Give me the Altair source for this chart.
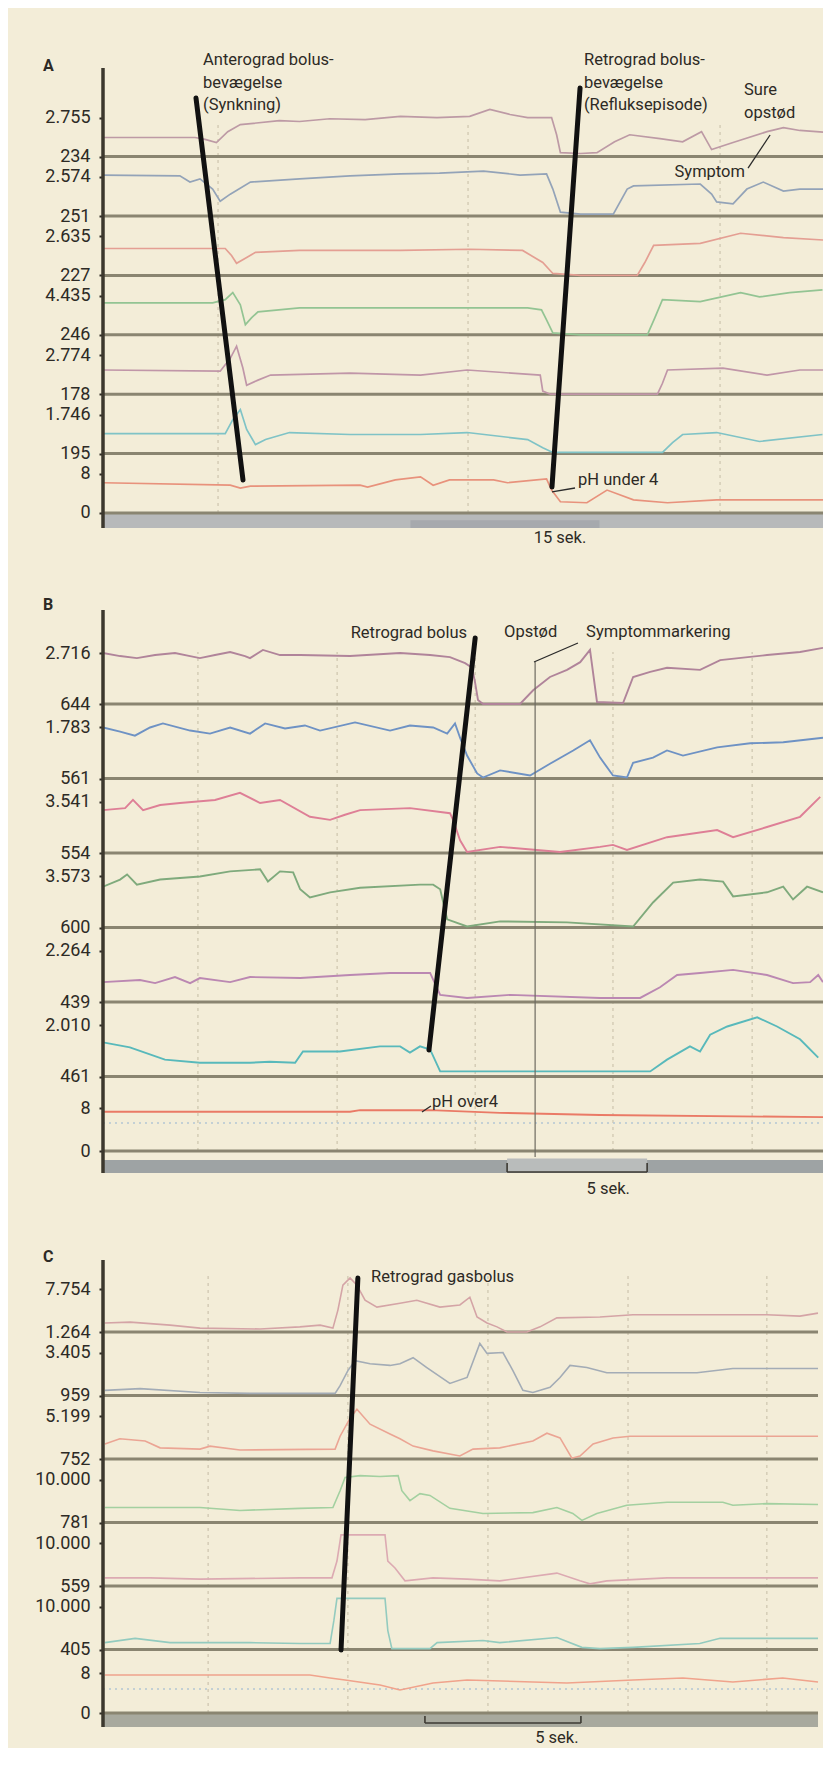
import altair as alt
import pandas as pd

FONT = "Roboto"
BG = "#f3edd8"
INK = "#2d2a25"
BASE = "#8a8571"
PLOT_W = 720

# ======================= Panel A (15 sek.) =======================
A_TOP_LABELS = ["2.755", "2.574", "2.635", "4.435", "2.774", "1.746", "8"]
A_BOTTOM_LABELS = ["234", "251", "227", "246", "178", "195", "0"]
A_COLORS = ["#bd9aa5", "#93a3b8", "#e49f93", "#93c493", "#c096a8", "#7fc3c6", "#e8927c"]

A1_T = [0, 7.3, 8.1, 9.0, 9.9, 10.9, 14.0, 15.6, 18.0, 20.8, 23.6, 26.5, 29.1, 30.7, 32.3, 33.7, 35.6, 36.0, 36.3, 37.9, 39.2, 40.6, 41.8, 44.2, 46.0, 47.5, 48.3, 50.0, 52.7, 54.0, 55.3, 57.5]
A1_V = [49, 49, 44, 36, 64, 82, 92, 90, 97, 95, 103, 100, 103, 121, 108, 100, 100, 56, 10, 8, 10, 38, 56, 46, 38, 64, 18, 36, 64, 74, 67, 62]
A2_T = [0, 6.1, 6.9, 7.7, 8.7, 9.3, 10.1, 11.7, 15.6, 19.6, 23.6, 26.7, 30.2, 33.1, 35.2, 35.7, 36.3, 37.9, 40.5, 41.6, 42.1, 47.4, 48.3, 48.7, 50.0, 51.1, 52.4, 54.0, 55.3, 57.5]
A2_V = [105, 103, 87, 95, 69, 38, 56, 87, 95, 103, 108, 110, 115, 105, 108, 69, 10, 5, 5, 69, 77, 82, 56, 36, 31, 69, 87, 64, 69, 69]
A3_T = [0, 9.7, 10.2, 10.6, 11.3, 12.1, 15.6, 23.6, 29.1, 33.3, 34.9, 35.7, 37.9, 42.4, 43.0, 43.7, 47.4, 50.6, 54.0, 57.5]
A3_V = [69, 69, 51, 31, 44, 59, 64, 64, 67, 64, 33, 5, 0, 0, 33, 77, 82, 108, 97, 90]
A4_T = [0, 8.7, 9.7, 10.3, 10.9, 11.3, 11.8, 12.3, 15.6, 23.6, 33.7, 34.8, 35.2, 35.7, 37.9, 43.2, 43.8, 44.4, 47.4, 50.6, 52.1, 54.5, 57.1]
A4_V = [82, 82, 90, 108, 77, 26, 44, 59, 69, 69, 69, 64, 38, 5, 0, 0, 44, 90, 85, 108, 97, 108, 115]
A5_T = [0, 9.3, 10.1, 10.6, 11.1, 11.4, 12.3, 13.3, 19.6, 25.2, 28.9, 34.7, 34.9, 35.5, 44.0, 44.4, 44.8, 49.2, 52.7, 55.3, 57.5]
A5_V = [62, 59, 92, 123, 67, 23, 36, 49, 54, 49, 62, 49, 8, 0, 0, 28, 62, 67, 49, 62, 62]
A6_T = [0, 9.7, 10.3, 10.9, 11.4, 12.1, 12.9, 14.8, 19.6, 25.2, 28.9, 33.7, 34.9, 35.7, 44.4, 45.2, 46.0, 48.7, 52.1, 57.1]
A6_V = [51, 51, 87, 113, 62, 23, 36, 54, 49, 49, 54, 36, 15, 3, 3, 28, 49, 54, 31, 49]
A_PH_T = [0, 10.1, 10.9, 11.7, 20.4, 21.0, 23.2, 25.2, 26.2, 27.5, 31.0, 32.1, 35.2, 35.6, 36.3, 38.4, 40.0, 42.1, 44.8, 48.7, 57.5]
A_PH_V = [6.2, 5.7, 5.1, 5.5, 5.7, 5.3, 6.8, 7.4, 5.7, 6.8, 6.8, 6.2, 7.0, 4.7, 2.3, 2.1, 4.7, 2.7, 2.1, 2.7, 2.7]

A_SLASHES = [(7.38, 6.987, 11.11, 0.556), (37.86, 7.155, 35.63, 0.438)]
A_LEADERS = [(35.63, 0.354, 37.46, 0.421), (51.19, 5.808, 52.94, 6.364)]
A_TEXT_LEFT = [("Anterograd bolus-", 7.94, 7.626), ("bevægelse", 7.94, 7.239), ("(Synkning)", 7.94, 6.869),
               ("Retrograd bolus-", 38.17, 7.626), ("bevægelse", 38.17, 7.239), ("(Refluksepisode)", 38.17, 6.869),
               ("Sure", 50.87, 7.121), ("opstød", 50.87, 6.734), ("pH under 4", 37.70, 0.556)]
A_TEXT_RIGHT = [("Symptom", 50.95, 5.741)]
A_TEXT_CENTER = [("15 sek.", 36.27, -0.421)]
A_LETTER = ("A", -4.76, 7.525)
A_GRID = [9.13, 28.97, 48.97]

# ======================= Panel B (5 sek.) =======================
B_TOP_LABELS = ["2.716", "1.783", "3.541", "3.573", "2.264", "2.010", "8"]
B_BOTTOM_LABELS = ["644", "561", "554", "600", "439", "461", "0"]
B_COLORS = ["#b0849a", "#6e92c4", "#de7f96", "#7faa7c", "#bb88b2", "#58b9bb", "#ea7a66"]

B1_T = [0, 0.61, 1.21, 1.86, 2.57, 3.11, 3.46, 4.0, 4.54, 5.07, 5.25, 5.71, 6.32, 7.04, 8.82, 10.61, 11.68, 12.39, 12.93, 13.18, 13.29, 13.39, 13.57, 14.89, 15.36, 15.96, 16.57, 17.04, 17.39, 17.64, 18.57, 18.93, 19.54, 20.14, 21.32, 22.04, 23.71, 24.89, 25.71]
B1_V = [100, 94, 90, 96, 100, 94, 90, 96, 102, 94, 90, 106, 96, 96, 94, 100, 96, 92, 80, 71, 41, 8, 0, 0, 27, 53, 67, 82, 106, 4, 2, 53, 63, 71, 67, 86, 96, 102, 110]
B2_T = [0, 0.61, 1.14, 1.68, 2.14, 3.11, 3.82, 4.54, 5.25, 5.79, 6.5, 7.21, 7.75, 9.0, 10.25, 10.96, 11.79, 12.29, 12.57, 12.75, 13.0, 13.36, 13.57, 14.18, 15.25, 15.96, 16.79, 17.39, 17.75, 18.21, 18.71, 18.93, 19.64, 20.14, 20.71, 21.93, 23.11, 24.29, 25.71]
B2_V = [100, 92, 84, 100, 108, 94, 88, 100, 88, 108, 98, 104, 94, 110, 94, 104, 100, 88, 108, 80, 45, 10, 2, 16, 6, 29, 55, 75, 41, 6, 2, 31, 41, 55, 45, 61, 69, 71, 80]
B3_T = [0, 0.79, 1.07, 1.43, 2.04, 2.75, 4.0, 4.89, 5.61, 6.32, 7.39, 8.11, 8.64, 9.18, 10.96, 12.39, 12.5, 12.75, 13.0, 14.18, 16.32, 17.75, 18.21, 18.71, 20.14, 21.93, 22.5, 23.71, 24.89, 25.61]
B3_V = [84, 88, 104, 84, 94, 98, 104, 118, 98, 104, 71, 65, 75, 84, 88, 78, 65, 25, 2, 12, 2, 12, 16, 6, 31, 45, 31, 51, 71, 110]
B4_T = [0, 0.61, 0.86, 1.21, 2.04, 3.46, 4.54, 5.61, 5.89, 6.32, 6.79, 7.04, 7.39, 8.11, 9.18, 11.32, 11.79, 12.04, 12.29, 13.0, 14.18, 16.57, 18.93, 19.64, 20.36, 21.32, 22.14, 22.5, 23.71, 24.29, 24.64, 25.14, 25.71]
B4_V = [80, 94, 104, 84, 94, 100, 110, 114, 90, 110, 108, 75, 59, 69, 78, 84, 84, 75, 16, 2, 12, 10, 2, 49, 88, 94, 90, 61, 69, 80, 55, 80, 69]
B5_T = [0, 1.32, 1.86, 2.57, 3.11, 3.46, 4.54, 5.25, 7.04, 8.82, 10.25, 11.68, 12.04, 13.0, 14.54, 17.75, 19.18, 19.89, 20.5, 21.32, 22.5, 23.71, 24.64, 25.25, 25.54, 25.71]
B5_V = [39, 43, 37, 49, 37, 47, 39, 49, 47, 53, 57, 57, 14, 8, 14, 8, 8, 29, 53, 57, 63, 53, 37, 39, 53, 39]
B6_T = [0, 0.96, 2.21, 3.46, 5.25, 5.96, 6.86, 7.14, 8.46, 9.89, 10.61, 10.96, 11.32, 11.68, 12.04, 14.18, 19.54, 20.14, 20.96, 21.32, 21.68, 22.29, 23.36, 24.07, 24.89, 25.54]
B6_V = [67, 57, 33, 27, 27, 29, 27, 49, 49, 59, 59, 47, 59, 53, 10, 10, 10, 33, 59, 49, 82, 98, 116, 98, 73, 37]
B_PH_T = [0, 8.82, 9.18, 11.68, 14.18, 17.75, 25.71]
B_PH_V = [7.3, 7.3, 7.6, 7.6, 7.1, 6.7, 6.3]
B_PH_REF = 5.2

B_SLASHES = [(13.29, 6.886, 11.64, 1.356)]
B_LEADERS = [(15.39, 6.564, 16.96, 6.819), (11.39, 0.523, 11.71, 0.604)]
B_MARKER = [(15.43, 6.564, 15.43, -0.08)]
B_TEXT_LEFT = [("Opstød", 14.32, 6.966), ("Symptommarkering", 17.25, 6.966), ("pH over4", 11.75, 0.658)]
B_TEXT_RIGHT = [("Retrograd bolus", 13.0, 6.953)]
B_TEXT_CENTER = [("5 sek.", 18.04, -0.510)]
B_LETTER = ("B", -2.14, 7.329)
B_GRID = [3.39, 8.36, 13.29, 18.21, 23.18]

# ======================= Panel C (5 sek.) =======================
C_TOP_LABELS = ["7.754", "3.405", "5.199", "10.000", "10.000", "10.000", "8"]
C_BOTTOM_LABELS = ["1.264", "959", "752", "781", "559", "405", "0"]
C_COLORS = ["#d4a4a6", "#a3acb6", "#eba594", "#a3d0a0", "#dcaab2", "#93cbbf", "#f0a38c"]

C1_T = [0.06, 0.87, 2.15, 3.11, 5.03, 6.31, 6.96, 7.37, 7.53, 7.69, 7.92, 8.14, 8.40, 8.78, 9.52, 10.06, 10.80, 11.44, 11.76, 11.99, 12.31, 12.63, 12.95, 13.59, 14.01, 14.55, 15.93, 16.99, 21.28, 22.34, 22.92]
C1_V = [21, 23, 16, 9, 7, 12, 16, 9, 51, 109, 126, 109, 74, 58, 67, 74, 58, 63, 81, 35, 21, 12, 0, 0, 12, 33, 35, 40, 40, 37, 44]
C2_T = [0.06, 1.19, 3.11, 4.71, 7.44, 7.60, 7.85, 8.08, 8.56, 9.20, 9.52, 9.94, 10.38, 11.12, 11.67, 12.08, 12.31, 12.82, 13.14, 13.46, 13.78, 14.33, 14.65, 14.97, 15.51, 16.15, 19.04, 20.19, 22.92]
C2_V = [12, 16, 7, 5, 5, 23, 58, 81, 74, 70, 74, 88, 65, 28, 42, 121, 98, 100, 58, 12, 7, 19, 42, 70, 65, 53, 53, 63, 63]
C3_T = [0.06, 0.54, 1.35, 1.83, 3.11, 3.43, 4.39, 7.44, 7.60, 7.92, 8.14, 8.56, 9.20, 9.52, 9.94, 10.58, 11.44, 11.86, 12.72, 13.78, 14.23, 14.65, 15.03, 15.29, 15.71, 16.35, 16.89, 22.92]
C3_V = [35, 47, 42, 26, 23, 30, 21, 23, 53, 95, 116, 81, 58, 47, 30, 19, 7, 23, 26, 42, 60, 49, 2, 7, 35, 49, 53, 53]
C4_T = [0.06, 3.11, 4.39, 6.31, 7.37, 7.60, 7.76, 8.24, 8.88, 9.46, 9.58, 9.84, 10.16, 10.48, 11.12, 12.18, 13.78, 14.55, 15.06, 15.35, 15.83, 16.79, 18.08, 19.87, 20.19, 21.28, 22.92]
C4_V = [35, 35, 28, 33, 35, 74, 105, 109, 107, 109, 74, 51, 67, 63, 33, 21, 23, 35, 21, 5, 21, 40, 47, 47, 40, 44, 42]
C5_T = [0.06, 1.51, 3.11, 6.31, 7.34, 7.50, 7.63, 9.04, 9.13, 9.36, 9.68, 10.58, 11.67, 12.72, 14.55, 15.29, 15.61, 16.15, 18.08, 22.92]
C5_V = [19, 19, 16, 19, 19, 58, 119, 119, 58, 42, 12, 19, 16, 12, 30, 12, 5, 12, 19, 19]
C6_T = [0.06, 1.03, 2.15, 4.71, 6.31, 7.28, 7.40, 7.50, 9.04, 9.13, 9.26, 10.48, 10.71, 12.18, 12.72, 14.55, 15.35, 15.93, 16.99, 19.13, 19.78, 22.92]
C6_V = [16, 26, 16, 16, 14, 14, 67, 119, 119, 44, 2, 2, 16, 21, 16, 28, 5, 2, 5, 14, 26, 26]
C_PH_T = [0.06, 6.63, 7.28, 7.76, 8.88, 9.52, 10.58, 11.67, 13.78, 14.87, 16.99, 18.59, 20.19, 21.79, 22.92]
C_PH_V = [7.6, 7.6, 7.0, 6.6, 5.6, 4.6, 6.0, 6.6, 6.2, 6.0, 6.6, 7.0, 6.2, 7.0, 6.2]
C_PH_REF = 4.8

C_SLASHES = [(8.17, 6.850, 7.63, 0.992)]
C_TEXT_LEFT = [("Retrograd gasbolus", 8.59, 6.866)]
C_TEXT_CENTER = [("5 sek.", 14.55, -0.394)]
C_LETTER = ("C", -1.92, 7.181)
C_GRID = [3.37, 7.85, 12.34, 16.83, 21.28]


def build_panel(cfg):
    n = len(cfg["traces"])
    span_imp, span_ph = cfg["spans"]
    xscale = alt.Scale(domain=list(cfg["xdom"]), nice=False, zero=False)
    yscale = alt.Scale(domain=list(cfg["ydom"]), nice=False, zero=False)

    # axis tick positions & label texts
    vals, labs = [], []
    for ch in range(n):
        idx = n - 1 - ch
        span = span_ph if ch == n - 1 else span_imp
        vals.append(round(idx + span, 4)); labs.append(cfg["top"][ch])
        vals.append(idx); labs.append(cfg["bottom"][ch])
    expr = ("[" + ",".join("'%s'" % s for s in labs) + "][indexof(["
            + ",".join(repr(v) for v in vals) + "], datum.value)]")
    yaxis = alt.Axis(values=vals, labelExpr=expr, domain=False, grid=False, ticks=True,
                     tickSize=4, tickWidth=2, tickColor=INK, labelFont=FONT, labelFontSize=18,
                     labelColor=INK, labelPadding=9, title=None, minExtent=95, maxExtent=95,
                     labelOverlap=False, labelBound=False, labelFlush=False)

    def X(f):
        return alt.X(f, type="quantitative", scale=xscale, axis=None)

    def Y(f):
        return alt.Y(f, type="quantitative", scale=yscale, axis=yaxis)

    t_end = cfg["t_end"]
    layers = []

    # faint dashed vertical grid
    grid = pd.DataFrame({"t": cfg["grid"], "y0": 0.0, "y1": cfg["grid_top"]})
    layers.append(alt.Chart(grid).mark_rule(color="#cdc5ae", strokeDash=[3, 4], strokeWidth=1.2)
                  .encode(x=X("t"), y=Y("y0"), y2=alt.Y2("y1")))

    # gray time bar
    bar = pd.DataFrame([{"t0": 0, "t1": t_end, "y0": cfg["bar"][0], "y1": cfg["bar"][1]}])
    layers.append(alt.Chart(bar).mark_rect(color=cfg["bar_color"], clip=True)
                  .encode(x=X("t0"), x2=alt.X2("t1"), y=Y("y0"), y2=alt.Y2("y1")))
    if cfg.get("bar_extra"):
        be = pd.DataFrame([dict(zip(["t0", "t1", "y0", "y1", "c"], r)) for r in cfg["bar_extra"]])
        layers.append(alt.Chart(be).mark_rect(clip=True)
                      .encode(x=X("t0"), x2=alt.X2("t1"), y=Y("y0"), y2=alt.Y2("y1"),
                              color=alt.Color("c:N", scale=None)))

    # channel baselines
    bl = pd.DataFrame({"pos": list(range(n)), "t0": 0, "t1": t_end})
    layers.append(alt.Chart(bl).mark_rule(color=BASE, strokeWidth=3, clip=True)
                  .encode(x=X("t0"), x2=alt.X2("t1"), y=Y("pos")))

    # pH reference (dotted)
    if cfg.get("ph_ref") is not None:
        pr = pd.DataFrame([{"t0": 0, "t1": t_end, "pos": cfg["ph_ref"] / 8.0 * span_ph}])
        layers.append(alt.Chart(pr).mark_rule(color="#b4c6d4", strokeDash=[2, 4], strokeWidth=1.5, clip=True)
                      .encode(x=X("t0"), x2=alt.X2("t1"), y=Y("pos")))

    # traces
    rows = []
    for ch, (ts, vs) in enumerate(cfg["traces"]):
        idx = n - 1 - ch
        is_ph = ch == n - 1
        span = span_ph if is_ph else span_imp
        full = 8.0 if is_ph else 100.0
        for t, v in zip(ts, vs):
            rows.append({"t": t, "pos": idx + v / full * span, "ch": "k%d" % ch, "c": cfg["colors"][ch]})
    tr = pd.DataFrame(rows)
    layers.append(alt.Chart(tr).mark_line(strokeWidth=cfg["lw"], clip=True)
                  .encode(x=X("t"), y=Y("pos"), color=alt.Color("c:N", scale=None), detail="ch:N"))

    # symptom marker line
    if cfg.get("marker"):
        mk = pd.DataFrame([dict(zip(["t0", "p0", "t1", "p1"], r)) for r in cfg["marker"]])
        layers.append(alt.Chart(mk).mark_rule(color="#6d6a60", strokeWidth=1.2)
                      .encode(x=X("t0"), y=Y("p0"), x2=alt.X2("t1"), y2=alt.Y2("p1")))

    # scale bracket
    if cfg.get("bracket"):
        b0, b1, by, btop = cfg["bracket"]
        br = pd.DataFrame([{"t0": b0, "p0": by, "t1": b1, "p1": by},
                           {"t0": b0, "p0": by, "t1": b0, "p1": btop},
                           {"t0": b1, "p0": by, "t1": b1, "p1": btop}])
        layers.append(alt.Chart(br).mark_rule(color="#3d3a33", strokeWidth=1.6)
                      .encode(x=X("t0"), y=Y("p0"), x2=alt.X2("t1"), y2=alt.Y2("p1")))

    # thick black annotation strokes
    sl = pd.DataFrame([dict(zip(["t0", "p0", "t1", "p1"], r)) for r in cfg["slashes"]])
    layers.append(alt.Chart(sl).mark_rule(color="#111111", strokeWidth=5, strokeCap="round")
                  .encode(x=X("t0"), y=Y("p0"), x2=alt.X2("t1"), y2=alt.Y2("p1")))

    # thin leaders
    if cfg.get("leaders"):
        ld = pd.DataFrame([dict(zip(["t0", "p0", "t1", "p1"], r)) for r in cfg["leaders"]])
        layers.append(alt.Chart(ld).mark_rule(color="#2a2a2a", strokeWidth=1.3)
                      .encode(x=X("t0"), y=Y("p0"), x2=alt.X2("t1"), y2=alt.Y2("p1")))

    # texts
    for key, align in (("text_left", "left"), ("text_right", "right"), ("text_center", "center")):
        if cfg.get(key):
            td = pd.DataFrame([{"label": a, "t": b, "pos": c} for a, b, c in cfg[key]])
            layers.append(alt.Chart(td).mark_text(align=align, baseline="middle", font=FONT,
                                                  fontSize=16.5, color=INK)
                          .encode(x=X("t"), y=Y("pos"), text="label:N"))
    lt = pd.DataFrame([{"label": cfg["letter"][0], "t": cfg["letter"][1], "pos": cfg["letter"][2]}])
    layers.append(alt.Chart(lt).mark_text(align="left", baseline="middle", font=FONT, fontSize=16,
                                          fontWeight="bold", color=INK)
                  .encode(x=X("t"), y=Y("pos"), text="label:N"))

    # vertical axis line
    ax = pd.DataFrame([{"t0": 0, "p0": cfg["axis_line"][0], "p1": cfg["axis_line"][1]}])
    layers.append(alt.Chart(ax).mark_rule(color="#3c382e", strokeWidth=3.5)
                  .encode(x=X("t0"), y=Y("p0"), y2=alt.Y2("p1")))

    return alt.layer(*layers).properties(width=PLOT_W, height=cfg["height"])


panel_a = build_panel(dict(
    traces=[(A1_T, A1_V), (A2_T, A2_V), (A3_T, A3_V), (A4_T, A4_V), (A5_T, A5_V), (A6_T, A6_V), (A_PH_T, A_PH_V)],
    colors=A_COLORS, top=A_TOP_LABELS, bottom=A_BOTTOM_LABELS, spans=(0.657, 0.657),
    xdom=(0, 57.14), ydom=(-0.926, 8.502), height=560, t_end=57.5,
    bar=(0, -0.253), bar_color="#b7b9ba", bar_extra=[(24.4, 39.4, -0.12, -0.253, "#a6a9ad")],
    grid=A_GRID, grid_top=6.6, slashes=A_SLASHES, leaders=A_LEADERS,
    text_left=A_TEXT_LEFT, text_right=A_TEXT_RIGHT, text_center=A_TEXT_CENTER,
    letter=A_LETTER, axis_line=(-0.253, 7.49), lw=1.7, ph_ref=None))

panel_b = build_panel(dict(
    traces=[(B1_T, B1_V), (B2_T, B2_V), (B3_T, B3_V), (B4_T, B4_V), (B5_T, B5_V), (B6_T, B6_V), (B_PH_T, B_PH_V)],
    colors=B_COLORS, top=B_TOP_LABELS, bottom=B_BOTTOM_LABELS, spans=(0.685, 0.577),
    xdom=(0, 25.71), ydom=(-0.765, 7.826), height=640, t_end=25.71,
    bar=(-0.121, -0.295), bar_color="#9ea3a4", bar_extra=[(14.43, 19.43, -0.10, -0.282, "#b9bcbb")],
    grid=B_GRID, grid_top=6.7, slashes=B_SLASHES, leaders=B_LEADERS, marker=B_MARKER,
    bracket=(14.43, 19.43, -0.282, -0.161),
    text_left=B_TEXT_LEFT, text_right=B_TEXT_RIGHT, text_center=B_TEXT_CENTER,
    letter=B_LETTER, axis_line=(-0.295, 7.262), lw=1.9, ph_ref=B_PH_REF))

panel_c = build_panel(dict(
    traces=[(C1_T, C1_V), (C2_T, C2_V), (C3_T, C3_V), (C4_T, C4_V), (C5_T, C5_V), (C6_T, C6_V), (C_PH_T, C_PH_V)],
    colors=C_COLORS, top=C_TOP_LABELS, bottom=C_BOTTOM_LABELS, spans=(0.677, 0.630),
    xdom=(0, 23.08), ydom=(-0.551, 7.953), height=540, t_end=22.92,
    bar=(0, -0.22), bar_color="#a8a99e",
    grid=C_GRID, grid_top=6.9, slashes=C_SLASHES,
    bracket=(10.32, 15.32, -0.157, -0.047),
    text_left=C_TEXT_LEFT, text_center=C_TEXT_CENTER,
    letter=C_LETTER, axis_line=(-0.22, 7.134), lw=1.6, ph_ref=C_PH_REF))

chart = (alt.vconcat(panel_a, panel_b, panel_c, spacing=0)
         .properties(padding=0, background=BG)
         .configure_view(stroke=None))

chart.save("out.html", embed_options={"renderer": "svg", "actions": False})
